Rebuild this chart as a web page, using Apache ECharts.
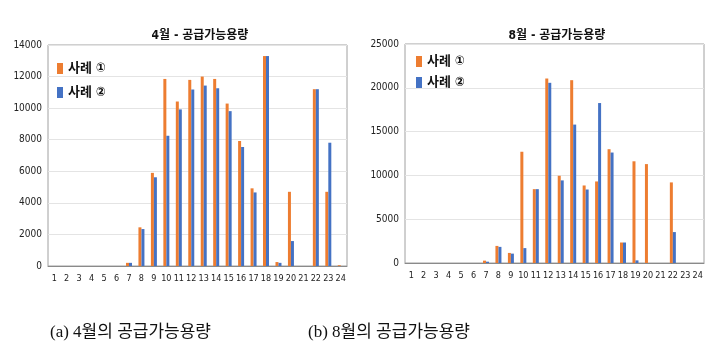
<!DOCTYPE html>
<html>
<head>
<meta charset="utf-8">
<script src="https://cdn.jsdelivr.net/npm/echarts@6/dist/echarts.min.js"></script>
<style>
  html, body { margin: 0; padding: 0; background: #fff; }
  #main { width: 726px; height: 352px; }
</style>
</head>
<body>
<div id="main"></div>
<script>
// 시간대 (1~24시)
var hours = ['1','2','3','4','5','6','7','8','9','10','11','12','13','14','15','16','17','18','19','20','21','22','23','24'];

// 4월 - 공급가능용량
var aprCase1 = [0,0,0,0,0,0,200,2450,5900,11850,10420,11790,12000,11850,10290,7920,4920,13300,250,4700,0,11200,4700,50];
var aprCase2 = [0,0,0,0,0,0,200,2340,5620,8250,9920,11180,11430,11260,9810,7540,4660,13300,200,1580,0,11200,7810,0];

// 8월 - 공급가능용량
var augCase1 = [0,0,0,0,0,0,270,1950,1150,12700,8430,21060,9960,20870,8850,9310,12990,2340,11610,11290,0,9200,0,0];
var augCase2 = [0,0,0,0,0,0,150,1840,1070,1700,8430,20570,9430,15800,8390,18260,12610,2340,300,0,0,3530,0,0];

var seriesNames = ['사례 ①', '사례 ②'];
var colors = ['#ED7D31', '#4472C4'];

var chart = echarts.init(document.getElementById('main'));
var narrow = '"DejaVu Sans Condensed", "Noto Sans CJK KR", sans-serif';

function xAxisCfg(idx) {
  return {
    type: 'category', gridIndex: idx, data: hours,
    axisTick: { show: false },
    axisLine: { lineStyle: { color: '#8a8a8a' } },
    axisLabel: { color: '#222', fontFamily: narrow, fontSize: 9, margin: 8, interval: 0 }
  };
}
function yAxisCfg(idx, max, step) {
  return {
    type: 'value', gridIndex: idx, min: 0, max: max, interval: step,
    axisLine: { show: false }, axisTick: { show: false },
    splitLine: { lineStyle: { color: '#e4e4e4' } },
    axisLabel: { color: '#222', fontFamily: narrow, fontSize: 10, margin: 6,
      formatter: function (v) { return String(v); } }
  };
}
function bar(name, idx, data, color) {
  return {
    name: name, type: 'bar', xAxisIndex: idx, yAxisIndex: idx,
    data: data, barWidth: 3, barGap: '0%',
    itemStyle: { color: color }
  };
}

var option = {
  animation: false,
  color: colors,
  title: [
    { text: '4월 - 공급가능용량', left: 195, top: 25, textAlign: 'center',
      textStyle: { fontFamily: narrow, fontSize: 12, fontWeight: 'bold', color: '#111' } },
    { text: '8월 - 공급가능용량', left: 552, top: 25, textAlign: 'center',
      textStyle: { fontFamily: narrow, fontSize: 12, fontWeight: 'bold', color: '#111' } }
  ],
  legend: [
    { data: seriesNames, orient: 'vertical', left: 52, top: 57, itemWidth: 6, itemHeight: 11,
      itemGap: 11, icon: 'rect', selectedMode: false,
      textStyle: { fontFamily: narrow, fontSize: 13, fontWeight: 'bold', color: '#111' } },
    { data: seriesNames, orient: 'vertical', left: 411, top: 50, itemWidth: 6, itemHeight: 11,
      itemGap: 8, icon: 'rect', selectedMode: false,
      textStyle: { fontFamily: narrow, fontSize: 13, fontWeight: 'bold', color: '#111' } }
  ],
  grid: [
    { left: 48, right: 379, top: 45, bottom: 86, show: true, borderColor: '#a0a0a0', borderWidth: 1 },
    { left: 405, right: 22, top: 44, bottom: 89, show: true, borderColor: '#a0a0a0', borderWidth: 1 }
  ],
  xAxis: [xAxisCfg(0), xAxisCfg(1)],
  yAxis: [yAxisCfg(0, 14000, 2000), yAxisCfg(1, 25000, 5000)],
  series: [
    bar(seriesNames[0], 0, aprCase1, colors[0]),
    bar(seriesNames[1], 0, aprCase2, colors[1]),
    bar(seriesNames[0], 1, augCase1, colors[0]),
    bar(seriesNames[1], 1, augCase2, colors[1])
  ],
  graphic: [
    { type: 'text', left: 50, top: 324,
      style: { text: '(a) 4월의 공급가능용량', fontFamily: '"Liberation Serif", "Noto Sans CJK KR", serif', fontSize: 17, fill: '#111' } },
    { type: 'text', left: 308, top: 324,
      style: { text: '(b) 8월의 공급가능용량', fontFamily: '"Liberation Serif", "Noto Sans CJK KR", serif', fontSize: 17, fill: '#111' } }
  ]
};

chart.setOption(option);
</script>
</body>
</html>
